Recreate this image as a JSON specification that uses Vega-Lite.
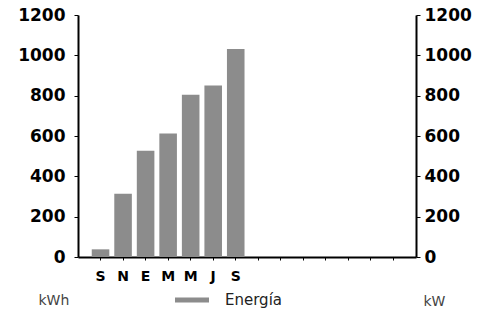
{
  "$schema": "https://vega.github.io/schema/vega-lite/v6.json",
  "width": 338,
  "height": 242,
  "autosize": "none",
  "padding": {"left": 78, "top": 15, "right": 67, "bottom": 54},
  "background": "white",
  "config": {
    "view": {"stroke": null},
    "axis": {"grid": false, "domainColor": "black", "tickColor": "black", "labelColor": "black", "domainWidth": 2}
  },
  "data": {
    "values": [
      {"pos": "1", "energia": 38},
      {"pos": "2", "energia": 314},
      {"pos": "3", "energia": 527},
      {"pos": "4", "energia": 612},
      {"pos": "5", "energia": 805},
      {"pos": "6", "energia": 850},
      {"pos": "7", "energia": 1032}
    ]
  },
  "layer": [
    {
      "mark": {"type": "bar", "color": "#8c8c8c"},
      "encoding": {
        "x": {
          "field": "pos",
          "type": "ordinal",
          "scale": {"domain": ["1","2","3","4","5","6","7","8","9","10","11","12","13","14"], "paddingInner": 0.22, "paddingOuter": 0.61},
          "axis": {
            "title": null,
            "labelAngle": 0,
            "labelExpr": "['','S','N','E','M','M','J','S'][+datum.value] || ''",
            "labelFont": "DejaVu Sans",
            "labelFontWeight": "bold",
            "labelFontSize": 14,
            "tickSize": 3,
            "labelPadding": 9
          }
        },
        "y": {
          "field": "energia",
          "type": "quantitative",
          "scale": {"domain": [0, 1200]},
          "axis": {
            "values": [0, 200, 400, 600, 800, 1000, 1200],
            "format": "d",
            "labelFont": "DejaVu Sans",
            "labelFontWeight": "bold",
            "labelFontSize": 17,
            "tickSize": 4,
            "labelPadding": 9,
            "title": "kWh",
            "titleAngle": 0,
            "titleFont": "DejaVu Sans",
            "titleFontWeight": "normal",
            "titleFontSize": 14,
            "titleColor": "#444",
            "titleAlign": "left",
            "titleBaseline": "middle",
            "titleX": -40,
            "titleY": 285
          }
        },
        "color": {
          "datum": "Energía",
          "type": "nominal",
          "scale": {"range": ["#8c8c8c"]},
          "legend": {
            "title": null,
            "orient": "none",
            "legendX": 97,
            "legendY": 268,
            "padding": 0,
            "symbolType": "M-1,-0.15H1V0.15H-1Z",
            "symbolSize": 1156,
            "symbolStrokeWidth": 0,
            "symbolOpacity": 1,
            "labelFont": "DejaVu Sans",
            "labelFontSize": 15,
            "labelColor": "#222",
            "labelOffset": 16
          }
        }
      }
    },
    {
      "mark": {"type": "point", "opacity": 0},
      "encoding": {
        "y": {
          "field": "energia",
          "type": "quantitative",
          "scale": {"domain": [0, 1200]},
          "axis": {
            "orient": "right",
            "values": [0, 200, 400, 600, 800, 1000, 1200],
            "format": "d",
            "labelFont": "DejaVu Sans",
            "labelFontWeight": "bold",
            "labelFontSize": 17,
            "tickSize": 4,
            "labelPadding": 4,
            "title": "kW",
            "titleAngle": 0,
            "titleFont": "DejaVu Sans",
            "titleFontWeight": "normal",
            "titleFontSize": 14,
            "titleColor": "#444",
            "titleAlign": "left",
            "titleBaseline": "middle",
            "titleX": 7,
            "titleY": 286
          }
        }
      }
    }
  ],
  "resolve": {"scale": {"y": "independent"}}
}
